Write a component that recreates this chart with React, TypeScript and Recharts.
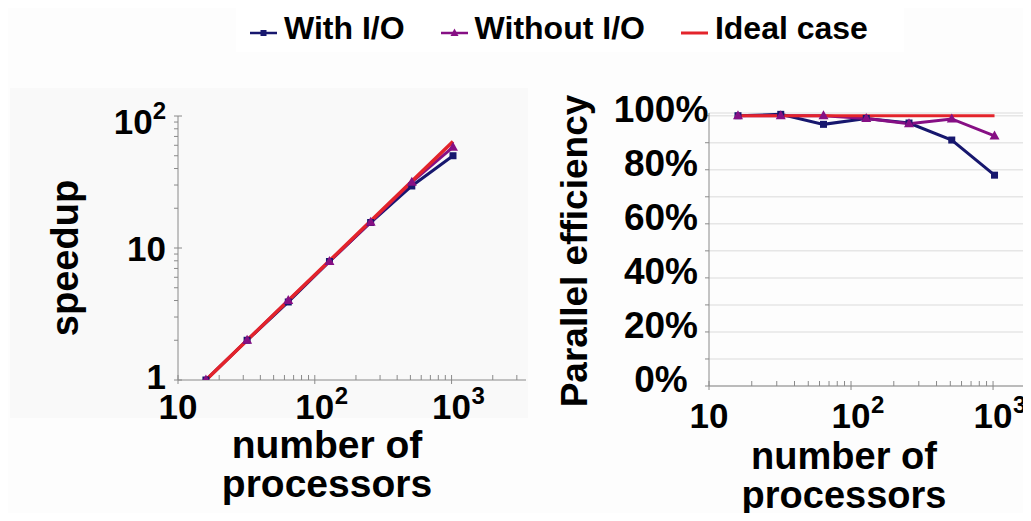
import React from 'react';
import { LineChart, Line, XAxis, YAxis, CartesianGrid, Legend } from 'recharts';

const procs = [16, 32, 64, 128, 256, 512, 1024];
const speedupWithIO = [1, 2, 3.9, 7.9, 15.6, 29.5, 50];
const speedupWithoutIO = [1, 2, 4, 7.9, 15.7, 31.5, 58];
const speedupIdeal = [1, 2, 4, 8, 16, 32, 64];
const effWithIO = [100, 100.5, 96.8, 99, 97.3, 91, 78];
const effWithoutIO = [100, 100, 100, 99, 97, 98.8, 92.5];
const effIdeal = [100, 100, 100, 100, 100, 100, 100];

const leftXTicks = [10, 20, 30, 40, 50, 60, 70, 80, 90, 100, 200, 300, 400, 500, 600, 700, 800, 900, 1000, 2000, 3000];
const rightXTicks = [10, 20, 30, 40, 50, 60, 70, 80, 90, 100, 200, 300, 400, 500, 600, 700, 800, 900, 1000];
const leftYTicks = [1, 2, 3, 4, 5, 6, 7, 8, 9, 10, 20, 30, 40, 50, 60, 70, 80, 90, 100];
const rightYTicks = [0, 10, 20, 30, 40, 50, 60, 70, 80, 90, 100];
const legendOrder = ['withIO', 'withoutIO', 'ideal'];

const NAVY = '#17176e';
const PURPLE = '#860f84';
const RED = '#e3242b';
const AXIS = '#8a8a8a';
const FONT = '"Liberation Sans", Arial, sans-serif';

const speedupRows = procs.map((p, i) => ({
  procs: p,
  withIO: speedupWithIO[i],
  withoutIO: speedupWithoutIO[i],
  ideal: speedupIdeal[i],
}));

const effRows = procs.map((p, i) => ({
  procs: p,
  withIO: effWithIO[i],
  withoutIO: effWithoutIO[i],
  ideal: effIdeal[i],
}));

const isPow10 = (v: number) => Math.abs(Math.log10(v) - Math.round(Math.log10(v))) < 1e-9;

const SquareDot = (props: any) => {
  const { cx, cy, index } = props;
  return <rect key={`sq-${index}`} x={cx - 3.5} y={cy - 3.5} width={7} height={7} fill={NAVY} />;
};

const TriangleDot = (props: any) => {
  const { cx, cy, index } = props;
  return <path key={`tr-${index}`} d={`M${cx},${cy - 5.5}L${cx + 5},${cy + 3.5}L${cx - 5},${cy + 3.5}Z`} fill={PURPLE} />;
};

// x axis ticks: small marks inside, labels only on decades
const makeXTick = (labelDy: number) => (props: any) => {
  const { x, y, payload } = props;
  const v = payload.value;
  const major = isPow10(v);
  const exp = Math.round(Math.log10(v));
  return (
    <g>
      <line x1={x} x2={x} y1={y - 5} y2={major ? y + 4 : y} stroke={AXIS} />
      {major && (
        <text x={x} y={y + labelDy} textAnchor="middle" fontSize={35} fontWeight="bold" fontFamily={FONT} fill="#000">
          10
        </text>
      )}
      {major && exp > 1 && (
        <text x={x + 20} y={y + labelDy - 15} fontSize={24} fontWeight="bold" fontFamily={FONT} fill="#000">
          {exp}
        </text>
      )}
    </g>
  );
};

const LogYTick = (props: any) => {
  const { x, y, payload } = props;
  const v = payload.value;
  const major = isPow10(v);
  const exp = Math.round(Math.log10(v));
  const dy = exp > 1 ? 18 : exp === 0 ? 9 : 13;
  return (
    <g>
      <line x1={x - 4} x2={major ? x + 4 : x} y1={y} y2={y} stroke={AXIS} />
      {major && (
        <text x={x - 12} y={y + dy} textAnchor="end" fontSize={35} fontWeight="bold" fontFamily={FONT} fill="#000">
          {exp === 0 ? '1' : '10'}
          {exp > 1 && (
            <tspan fontSize={24} dy={-15}>
              {exp}
            </tspan>
          )}
        </text>
      )}
    </g>
  );
};

const PctYTick = (props: any) => {
  const { x, y, payload } = props;
  const v = payload.value;
  const labelled = v % 20 === 0;
  return (
    <g>
      <line x1={x - 4} x2={x} y1={y} y2={y} stroke={AXIS} />
      {labelled && (
        <text x={x - 48} y={y + 6} textAnchor="middle" fontSize={37} fontWeight="bold" fontFamily={FONT} fill="#000">
          {`${v}%`}
        </text>
      )}
    </g>
  );
};

const LegendIcon = ({ dataKey, color }: { dataKey: string; color: string }) => (
  <svg width={27} height={12} style={{ marginTop: 10, marginRight: 7 }}>
    <line x1={0} x2={27} y1={6} y2={6} stroke={color} strokeWidth={dataKey === 'ideal' ? 3 : 2.5} />
    {dataKey === 'withIO' && <rect x={10.5} y={3} width={6} height={6} fill={color} />}
    {dataKey === 'withoutIO' && <path d="M13.5,1.5L17.5,9L9.5,9Z" fill={color} />}
  </svg>
);

const renderLegend = (props: any) => {
  const items = [...props.payload].sort(
    (a: any, b: any) => legendOrder.indexOf(a.dataKey) - legendOrder.indexOf(b.dataKey)
  );
  return (
    <div style={{ display: 'flex', alignItems: 'center', height: 48, paddingLeft: 14, background: '#ffffff' }}>
      {items.map((item: any) => (
        <div key={item.value} style={{ display: 'flex', alignItems: 'center', marginRight: 36 }}>
          <LegendIcon dataKey={item.dataKey} color={item.color} />
          <span style={{ fontFamily: FONT, fontWeight: 'bold', fontSize: 32, color: '#000' }}>{item.value}</span>
        </div>
      ))}
    </div>
  );
};

export default function App() {
  return (
    <div style={{ position: 'relative', width: 1031, height: 521, margin: -8, background: '#fdfdfd', overflow: 'hidden' }}>
      <div style={{ position: 'absolute', left: 10, top: 88, width: 518, height: 330, background: '#f9f9f9' }} />
      <div style={{ position: 'absolute', left: 0, top: 0 }}>
        <LineChart width={560} height={521} data={speedupRows} margin={{ top: 116, right: 34, bottom: 140, left: 177 }}>
          <XAxis
            dataKey="procs"
            type="number"
            scale="log"
            domain={[10, 3500]}
            ticks={leftXTicks}
            interval={0}
            height={1}
            tickSize={0}
            tickMargin={0}
            tickLine={false}
            axisLine={{ stroke: AXIS }}
            tick={makeXTick(39)}
            allowDataOverflow
          />
          <YAxis
            type="number"
            scale="log"
            domain={[1, 100]}
            ticks={leftYTicks}
            interval={0}
            width={1}
            tickSize={0}
            tickMargin={0}
            tickLine={false}
            axisLine={{ stroke: AXIS }}
            tick={LogYTick}
            allowDataOverflow
          />
          <Legend
            layout="horizontal"
            verticalAlign="middle"
            align="center"
            content={renderLegend}
            wrapperStyle={{ left: 236, top: 4, width: 668, height: 48 }}
          />
          <Line dataKey="withIO" name="With I/O" stroke={NAVY} strokeWidth={3} dot={SquareDot} activeDot={false} isAnimationActive={false} />
          <Line dataKey="withoutIO" name="Without I/O" stroke={PURPLE} strokeWidth={3} dot={TriangleDot} activeDot={false} isAnimationActive={false} />
          <Line dataKey="ideal" name="Ideal case" stroke={RED} strokeWidth={3.5} dot={false} activeDot={false} isAnimationActive={false} />
        </LineChart>
      </div>
      <div style={{ position: 'absolute', left: 560, top: 0 }}>
        <LineChart width={471} height={521} data={effRows} margin={{ top: 113, right: 0, bottom: 134, left: 148 }}>
          <CartesianGrid vertical={false} stroke="#e6e6e6" strokeWidth={1.5} />
          <XAxis
            dataKey="procs"
            type="number"
            scale="log"
            domain={[10, 1850]}
            ticks={rightXTicks}
            interval={0}
            height={1}
            tickSize={0}
            tickMargin={0}
            tickLine={false}
            axisLine={{ stroke: AXIS }}
            tick={makeXTick(42)}
            allowDataOverflow
          />
          <YAxis
            type="number"
            domain={[0, 101]}
            ticks={rightYTicks}
            interval={0}
            width={1}
            tickSize={0}
            tickMargin={0}
            tickLine={false}
            axisLine={{ stroke: AXIS }}
            tick={PctYTick}
          />
          <Line dataKey="withIO" name="With I/O" stroke={NAVY} strokeWidth={3} dot={SquareDot} activeDot={false} isAnimationActive={false} />
          <Line dataKey="withoutIO" name="Without I/O" stroke={PURPLE} strokeWidth={3} dot={TriangleDot} activeDot={false} isAnimationActive={false} />
          <Line dataKey="ideal" name="Ideal case" stroke={RED} strokeWidth={3} dot={false} activeDot={false} isAnimationActive={false} />
        </LineChart>
      </div>
      <svg width={1031} height={521} style={{ position: 'absolute', left: 0, top: 0, pointerEvents: 'none' }}>
        <g fontFamily={FONT} fontWeight="bold" fill="#000">
          <text transform="translate(78,258) rotate(-90)" textAnchor="middle" fontSize={38}>speedup</text>
          <text transform="translate(587,251) rotate(-90)" textAnchor="middle" fontSize={37}>Parallel efficiency</text>
          <text x={327} y={458} textAnchor="middle" fontSize={39}>number of</text>
          <text x={327} y={497} textAnchor="middle" fontSize={39}>processors</text>
          <text x={844} y={469} textAnchor="middle" fontSize={38}>number of</text>
          <text x={844} y={508} textAnchor="middle" fontSize={38}>processors</text>
        </g>
      </svg>
    </div>
  );
}
